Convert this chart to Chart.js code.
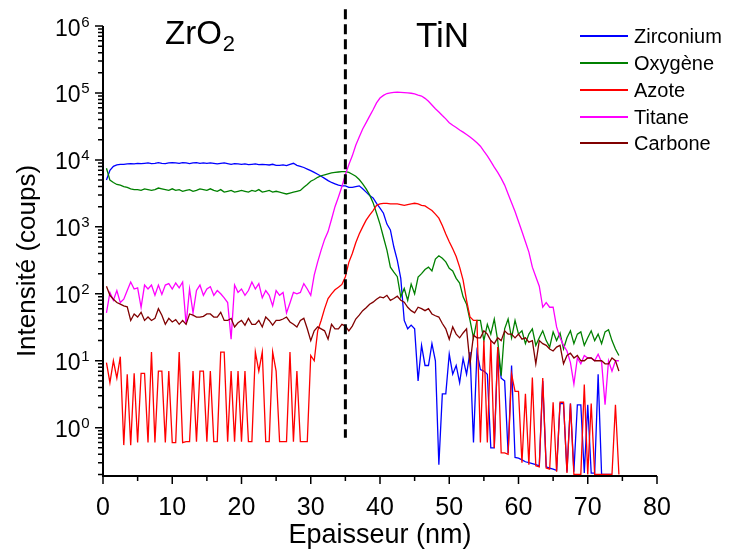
<!DOCTYPE html>
<html><head><meta charset="utf-8">
<script src="https://cdn.jsdelivr.net/npm/chart.js@4/dist/chart.umd.min.js"></script>
<style>html,body{margin:0;padding:0;background:#fff}#wrap{width:730px;height:552px}</style>
</head><body><div id="wrap"><canvas id="c" width="730" height="552"></canvas></div>
<script>
// Depth grid (nm)
const depth = [0.5,1,1.5,2,2.5,3,3.5,4,4.5,5,5.5,6,6.5,7,7.5,8,8.5,9,9.5,10,
10.5,11,11.5,12,12.5,13,13.5,14,14.5,15,15.5,16,16.5,17,17.5,18,18.5,19,19.5,20,
20.5,21,21.5,22,22.5,23,23.5,24,24.5,25,25.5,26,26.5,27,27.5,28,28.5,29,29.5,30,
30.5,31,31.5,32,32.5,33,33.5,34,34.5,35,35.5,36,36.5,37,37.5,38,38.5,39,39.5,40,
40.5,41,41.5,42,42.5,43,43.5,44,44.5,45,45.5,46,46.5,47,47.5,48,48.5,49,49.5,50,
50.5,51,51.5,52,52.5,53,53.5,54,54.5,55,55.5,56,56.5,57,57.5,58,58.5,59,59.5,60,
60.5,61,61.5,62,62.5,63,63.5,64,64.5,65,65.5,66,66.5,67,67.5,68,68.5,69,69.5,70,
70.5,71,71.5,72,72.5,73,73.5,74,74.5];

const zirconium = [5000,7000,8000,8400,8600,8600,8700,8800,8700,8900,
8800,8900,9000,8800,8900,9100,8900,8800,9000,9100,
9000,8900,9100,9000,8800,9000,9100,8900,9000,8900,
9000,8900,8700,8900,9000,8800,8600,8800,8700,8600,
8700,8500,8600,8700,8500,8600,8500,8400,8600,8300,
8300,8400,8200,8600,8900,8300,8000,7700,7300,6900,
6500,6100,5700,5300,4900,4600,4400,4200,4100,4100,
3900,3900,4000,4100,3700,3300,2950,2700,2250,1900,
1600,1100,900,500,316,170,40,30,34,30,
5,17,8.5,8.5,18,10,0.28,3.2,3.2,12.6,
6.3,8.5,4.7,10.8,6.3,13.5,0.6,13.5,7.4,7,
6.3,0.5,0.5,15,5.5,5,0.42,8.5,0.36,0.35,
0.33,0.31,0.3,0.29,0.28,0.27,5,0.26,0.25,0.24,
0.23,2.3,2.3,0.22,2.3,0.22,2.2,2.2,0.21,2.2,
0.21,0.21,6.3,0.2,0.2,0.2,0.2,null,null];

const oxygene = [7500,5000,4600,4300,4200,4000,3900,3700,3600,3600,
3500,3700,3600,3500,3600,3800,3700,3600,3500,3700,
3500,3600,3400,3500,3600,3400,3500,3700,3600,3500,
3700,3500,3400,3600,3300,3400,3500,3300,3400,3500,
3400,3300,3500,3400,3600,3300,3400,3500,3300,3400,
3300,3200,3100,3200,3300,3400,3500,3900,4300,4800,
5100,5500,5800,6000,6200,6400,6500,6600,6700,6700,
6500,6100,5700,5100,4400,3700,3000,2300,1600,1100,
700,450,250,210,180,90,120,80,140,100,
178,200,230,250,220,330,370,340,300,240,
220,170,145,90,70,40,22,40,40,20,
35,25,42,20,6,30,42,22,40,25,
28,18,25,30,17,22,28,20,16,27,
20,26,15,22,28,18,25,27,17,22,
28,20,25,18,27,29,20,15,12];

const azote = [9.4,4.7,10,5.5,11.5,0.55,6.3,0.55,6.5,0.6,
6.5,6.5,0.6,13.5,0.6,7,7,0.6,7,0.6,
0.6,13.5,0.6,0.62,0.62,7,0.62,7,7,0.62,
7,0.62,0.62,13.5,13.5,0.62,7,0.62,7,0.62,
7,0.62,0.62,13.5,7,13.5,0.62,0.62,13.5,7,
0.62,0.62,0.62,13.5,0.62,7,0.62,0.62,0.62,12,
10,28,40,60,85,100,115,125,138,180,
295,400,580,780,1000,1260,1500,1750,2100,2200,
2250,2250,2200,2200,2200,2150,2100,2150,2200,2250,
2200,2100,2050,1900,1750,1550,1350,1050,780,600,
470,360,250,160,80,45,40,40,0.6,20,
0.6,20,0.5,16,0.42,0.42,0.4,6.3,3.5,3.5,
0.3,3.2,0.28,5.6,0.27,0.26,5.5,0.25,0.24,2.4,
0.22,2.4,2.4,0.21,2.3,0.2,0.2,0.2,4.4,0.2,
2.3,0.2,0.2,0.2,0.2,0.2,0.2,2.2,0.2];

const titane = [52,105,80,112,74,83,112,150,118,123,
63,135,118,135,95,135,98,135,142,118,
145,123,150,35,118,52,112,135,95,118,
128,95,112,100,87,74,21,135,105,118,
95,112,150,118,142,87,112,95,66,112,
95,105,52,73,105,100,105,142,118,95,
190,300,450,650,850,1300,2000,2800,4000,6000,
8500,11500,16500,22000,29000,36000,45000,56000,71000,84000,
92000,98000,100000,102000,103000,102000,101000,100000,99000,97000,
93000,90000,83000,75000,66000,58000,52000,46000,41000,36000,
33000,30500,28000,26000,24000,22000,20000,18000,16000,13500,
11500,9500,7800,6500,5300,4200,3100,2300,1700,1200,
850,600,420,250,180,130,63,74,63,63,
32,22,17,14,9.4,4.5,11,9,12,11,
11,10,12.5,9.5,2.2,10,7,10,10];

const carbone = [130,95,83,74,70,66,64,40,50,45,
53,40,45,40,43,60,48,35,43,38,
41,35,40,35,50,48,45,45,46,50,
50,45,45,53,40,40,43,32,37,40,
34,43,35,35,40,32,45,40,34,40,
40,42,45,38,35,32,40,43,30,20,
28,32,30,28,21,35,30,30,35,33,
28,33,42,48,56,62,70,75,83,90,
87,95,80,85,92,80,75,63,56,52,
63,60,56,60,50,47,45,36,30,21,
32,25,22,26,30,9,24,22,22,28,
25,20,18,22,20,28,25,25,22,25,
21,22,19,20,9,20,18,17,15,14,
16,17,9,12,13,11,12,10,10,11,
11,10,10,10,9,9,11,10,7];

const seriesNames = ['Zirconium','Oxygène','Azote','Titane','Carbone'];
const seriesColors = ['#0000ff','#008000','#ff0000','#ff00ff','#800000'];
const seriesValues = [zirconium, oxygene, azote, titane, carbone];
const xTickValues = [0,10,20,30,40,50,60,70,80];
const xMinorTicks = [5,15,25,35,45,55,65,75];
const yTickExponents = [0,1,2,3,4,5,6];
const layerLabels = ['ZrO', 'TiN'];
const interfaceDepth = 35;
const xTitle = 'Epaisseur (nm)';
const yTitle = 'Intensité (coups)';

const FONT = "'Liberation Sans', Arial, Helvetica, sans-serif";

const datasets = seriesNames.map((n, i) => ({
  label: n,
  data: depth.map((d, k) => ({x: d, y: seriesValues[i][k]})),
  borderColor: seriesColors[i],
  backgroundColor: seriesColors[i],
  borderWidth: 1.3,
  pointRadius: 0,
  tension: 0,
  spanGaps: false,
  order: 5 - i
}));

const decorPlugin = {
  id: 'decor',
  afterDatasetsDraw(chart) {
    const ctx = chart.ctx;
    const xs = chart.scales.x, ys = chart.scales.y;
    const ca = chart.chartArea;
    ctx.save();
    // dashed interface line
    ctx.strokeStyle = '#000';
    ctx.lineWidth = 3;
    ctx.setLineDash([10, 5]);
    const xd = xs.getPixelForValue(interfaceDepth);
    ctx.beginPath();
    ctx.moveTo(xd, ys.getPixelForValue(Math.pow(10, 6.25)));
    ctx.lineTo(xd, ys.getPixelForValue(Math.pow(10, -0.15)));
    ctx.stroke();
    ctx.setLineDash([]);
    // axes
    ctx.lineWidth = 2;
    ctx.beginPath();
    ctx.moveTo(ca.left, ca.top);
    ctx.lineTo(ca.left, ca.bottom);
    ctx.lineTo(ca.right, ca.bottom);
    ctx.stroke();
    // x ticks
    ctx.lineWidth = 1.5;
    ctx.beginPath();
    xTickValues.forEach(v => { const p = xs.getPixelForValue(v); ctx.moveTo(p, ca.bottom); ctx.lineTo(p, ca.bottom + 8); });
    xMinorTicks.forEach(v => { const p = xs.getPixelForValue(v); ctx.moveTo(p, ca.bottom); ctx.lineTo(p, ca.bottom + 5); });
    // y ticks
    yTickExponents.forEach(e => {
      const p = ys.getPixelForValue(Math.pow(10, e));
      ctx.moveTo(ca.left, p); ctx.lineTo(ca.left - 8, p);
      for (let m = 2; m <= 9; m++) {
        const v = m * Math.pow(10, e - 1);
        if (v >= ys.min && v <= ys.max) { const q = ys.getPixelForValue(v); ctx.moveTo(ca.left, q); ctx.lineTo(ca.left - 5, q); }
      }
    });
    ctx.stroke();
    // y tick labels 10^n
    ctx.fillStyle = '#000';
    ctx.textBaseline = 'alphabetic';
    ctx.textAlign = 'left';
    yTickExponents.forEach(e => {
      const p = ys.getPixelForValue(Math.pow(10, e));
      ctx.font = '23px ' + FONT;
      const w1 = ctx.measureText('10').width;
      ctx.font = '15px ' + FONT;
      const w2 = ctx.measureText(String(e)).width;
      const x0 = 89 - w1 - w2;
      ctx.font = '23px ' + FONT;
      ctx.fillText('10', x0, p + 9.5);
      ctx.font = '15px ' + FONT;
      ctx.fillText(String(e), x0 + w1 + 0.5, p + 0.5);
    });
    // y axis title
    ctx.save();
    ctx.translate(28, 261);
    ctx.rotate(-Math.PI / 2);
    ctx.font = '26px ' + FONT;
    ctx.textAlign = 'center';
    ctx.textBaseline = 'middle';
    ctx.fillText(yTitle, 0, 0);
    ctx.restore();
    // layer labels
    ctx.font = '33px ' + FONT;
    ctx.fillText(layerLabels[0], 165, 44);
    const wz = ctx.measureText(layerLabels[0]).width;
    ctx.font = '22px ' + FONT;
    ctx.fillText('2', 165 + wz + 1, 51);
    ctx.font = '35px ' + FONT;
    ctx.fillText(layerLabels[1], 416, 47);
    // legend
    ctx.font = '20px ' + FONT;
    ctx.textBaseline = 'middle';
    const rows = [36, 63, 90, 117, 143];
    seriesNames.forEach((n, i) => {
      ctx.strokeStyle = seriesColors[i];
      ctx.lineWidth = 1.8;
      ctx.beginPath(); ctx.moveTo(580, rows[i]); ctx.lineTo(628, rows[i]); ctx.stroke();
      ctx.fillStyle = '#000';
      ctx.fillText(n, 634, rows[i] + 1.5);
    });
    ctx.restore();
  }
};

new Chart(document.getElementById('c'), {
  type: 'line',
  data: { datasets },
  options: {
    responsive: false,
    animation: false,
    devicePixelRatio: 1,
    layout: { padding: { left: 0, right: 73, top: 26, bottom: 0 } },
    plugins: { legend: { display: false }, tooltip: { enabled: false } },
    scales: {
      x: {
        type: 'linear', min: 0, max: 80,
        afterBuildTicks: s => { s.ticks = xTickValues.map(v => ({value: v})); },
        ticks: { font: { size: 25, family: FONT }, color: '#000', padding: 17, maxRotation: 0, autoSkip: false },
        grid: { display: false, drawTicks: false },
        border: { display: false },
        title: { display: true, text: xTitle, font: { size: 27, family: FONT }, color: '#000', padding: { top: 0, bottom: 0 } },
        afterFit: s => { s.height = 76; }
      },
      y: {
        type: 'logarithmic', min: 0.19, max: 1e6,
        ticks: { display: false },
        grid: { display: false, drawTicks: false },
        border: { display: false },
        title: { display: false, text: yTitle },
        afterFit: s => { s.width = 103; }
      }
    }
  },
  plugins: [decorPlugin]
});
</script></body></html>
